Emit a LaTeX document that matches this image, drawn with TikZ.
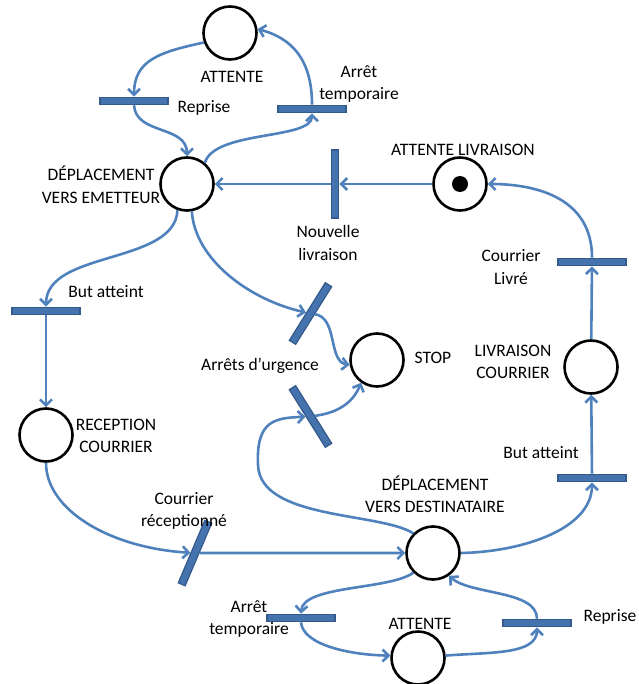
\documentclass[tikz,border=0pt]{standalone}
\usepackage{fontspec}
\setmainfont{Carlito}
\usetikzlibrary{arrows.meta}
\definecolor{arcblue}{HTML}{4F81BD}
\definecolor{barfill}{HTML}{4573AD}
\definecolor{barline}{HTML}{345A8C}

\begin{document}
\begin{tikzpicture}[x=1pt,y=-1pt,
  place/.style={circle,draw=black,line width=2.6pt,minimum size=53pt,inner sep=0pt},
  token/.style={circle,fill=black,minimum size=16pt,inner sep=0pt},
  bar/.style={rectangle,fill=barfill,draw=barline,line width=1.2pt,
              minimum width=68pt,minimum height=7.5pt,inner sep=0pt},
  arc/.style={draw=arcblue,line width=2.6pt,-{Straight Barb[length=6pt,width=12pt]}},
  lab/.style={font=\fontsize{17.5}{22.5}\selectfont,align=center,inner sep=0pt}
]
\useasboundingbox (0,0) rectangle (638,684);

% places
\node[place] (pAtt1) at (230,33) {};
\node[place] (pDepE) at (187,184) {};
\node[place] (pAttL) at (460,184) {};
\node[token] (tok) at (pAttL) {};
\node[place] (pStop) at (377,360) {};
\node[place] (pLivC) at (591,367) {};
\node[place] (pRec) at (46,435) {};
\node[place] (pDepD) at (433,553) {};
\node[place] (pAtt2) at (418,658) {};

% transitions
\node[bar] (tRep1) at (134,101) {};
\node[bar] (tArr1) at (312,109) {};
\node[bar,rotate=90] (tNouv) at (335,184) {};
\node[bar] (tLivre) at (592,262) {};
\node[bar] (tBut1) at (46,311) {};
\node[bar,rotate=58] (tUrg1) at (310.5,313.5) {};
\node[bar,rotate=-58] (tUrg2) at (310.5,416.5) {};
\node[bar] (tBut2) at (592,478) {};
\node[bar,rotate=67] (tRecep) at (195,553) {};
\node[bar] (tArr2) at (301,618) {};
\node[bar] (tRep2) at (537,623) {};

% labels
\node[lab] (lAtt1) at (232,77) {ATTENTE};
\node[lab] (lRep1) at (204,108) {Reprise};
\node[lab] (lArr1) at (359,84) {Arrêt\\temporaire};
\node[lab] (lDepE) at (101,185) {DÉPLACEMENT\\VERS EMETTEUR};
\node[lab] (lAttL) at (463,150) {ATTENTE LIVRAISON};
\node[lab] (lNouv) at (328,243) {Nouvelle\\livraison};
\node[lab] (lLivre) at (511,267) {Courrier\\Livré};
\node[lab] (lBut1) at (106,292) {But atteint};
\node[lab] (lUrg) at (260,366) {Arrêts d’urgence};
\node[lab] (lStop) at (433,358) {STOP};
\node[lab] (lLivC) at (513,362) {LIVRAISON\\COURRIER};
\node[lab] (lRec) at (116,436) {RECEPTION\\COURRIER};
\node[lab] (lBut2) at (541,453) {But atteint};
\node[lab] (lDepD) at (435,494) {DÉPLACEMENT\\VERS DESTINATAIRE};
\node[lab] (lRecep) at (184,511) {Courrier\\réceptionné};
\node[lab] (lArr2) at (249,619) {Arrêt\\temporaire};
\node[lab] (lAtt2) at (420,624) {ATTENTE};
\node[lab] (lRep2) at (610,617) {Reprise};

% arcs
\draw[arc] (pAtt1.200) .. controls (160,52) and (134,60) .. (tRep1.north);
\draw[arc] (tRep1.south) .. controls (136,135) and (187,125) .. (pDepE.north);
\draw[arc] (pDepE.50) .. controls (215,130) and (312,140) .. (tArr1.south);
\draw[arc] (tArr1.north) .. controls (312,60) and (292,38) .. (pAtt1.8);
\draw[arc] (pAttL) -- (tNouv);
\draw[arc] (tNouv) -- (pDepE);
\draw[arc] (pDepE.250) .. controls (175,265) and (46,250) .. (tBut1.north);
\draw[arc] (tBut1) -- (pRec);
\draw[arc] (pDepE.280) .. controls (195,260) and (250,300) .. (tUrg1);
\draw[arc] (tUrg1) .. controls (338,318) and (328,362) .. (pStop.190);
\draw[arc] (tUrg2) .. controls (335,413) and (352,405) .. (pStop.235);
\draw[arc] (pDepD.135) .. controls (380,512) and (260,520) .. (258,465)
                       .. controls (256,420) and (275,418) .. (tUrg2);
\draw[arc] (pRec.south) .. controls (46,510) and (110,548) .. (tRecep);
\draw[arc] (tRecep) -- (pDepD);
\draw[arc] (pDepD.east) .. controls (520,552) and (592,530) .. (tBut2.south);
\draw[arc] (tBut2) -- (pLivC);
\draw[arc] (pLivC) -- (tLivre);
\draw[arc] (tLivre.north) .. controls (592,200) and (540,184) .. (pAttL.east);
\draw[arc] (pDepD.225) .. controls (390,590) and (303,585) .. (tArr2.north);
\draw[arc] (tArr2.south) .. controls (303,645) and (350,655) .. (pAtt2.175);
\draw[arc] (pAtt2.5) .. controls (490,652) and (537,655) .. (tRep2.south);
\draw[arc] (tRep2.north) .. controls (537,590) and (470,595) .. (pDepD.305);
\end{tikzpicture}
\end{document}
